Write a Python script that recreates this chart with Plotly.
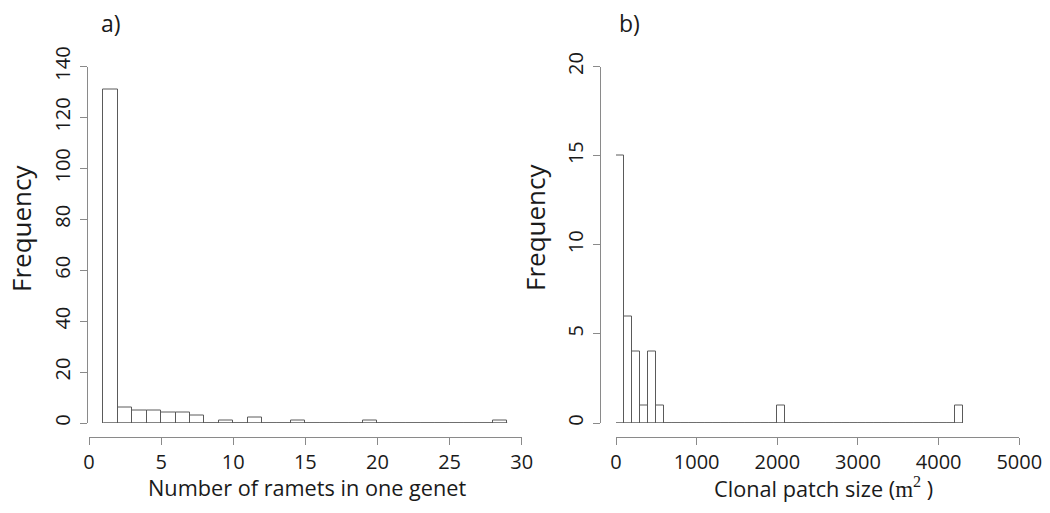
import plotly.graph_objects as go

# Panel a): number of ramets per genet, unit-width bins starting at 1
ramet_edges = list(range(1, 30))
ramet_counts = [131, 6, 5, 5, 4, 4, 3, 0, 1, 0, 2, 0, 0, 1,
                0, 0, 0, 0, 1, 0, 0, 0, 0, 0, 0, 0, 0, 1]
ramet_xticks = [0, 5, 10, 15, 20, 25, 30]
ramet_yticks = [0, 20, 40, 60, 80, 100, 120, 140]

# Panel b): clonal patch size (m^2), 100 m^2 bins
patch_edges = list(range(0, 4301, 100))
patch_counts = [15, 6, 4, 1, 4, 1] + [0] * 14 + [1] + [0] * 21 + [1]
patch_xticks = [0, 1000, 2000, 3000, 4000, 5000]
patch_yticks = [0, 5, 10, 15, 20]

W, H = 1050, 513
FONT = "Open Sans"
TXT = "#1a1a1a"
AXCOL = "#8a8a8a"
BARLINE = "#5a5a5a"


def px_x(p):
    return p / W


def px_y(p):
    return 1 - p / H


def hist_traces(edges, counts, xa, ya):
    centers = [(a + b) / 2 for a, b in zip(edges[:-1], edges[1:])]
    widths = [b - a for a, b in zip(edges[:-1], edges[1:])]
    bars = go.Bar(
        x=centers, y=counts, width=widths,
        marker=dict(color="white", line=dict(color=BARLINE, width=1)),
        xaxis=xa, yaxis=ya, cliponaxis=False, hoverinfo="x+y",
        showlegend=False,
    )
    base = go.Scatter(
        x=[edges[0], edges[-1]], y=[0, 0], mode="lines",
        line=dict(color=BARLINE, width=1),
        xaxis=xa, yaxis=ya, cliponaxis=False, hoverinfo="skip",
        showlegend=False,
    )
    return [bars, base]


fig = go.Figure()
for t in hist_traces(ramet_edges, ramet_counts, "x", "y"):
    fig.add_trace(t)
for t in hist_traces(patch_edges, patch_counts, "x2", "y2"):
    fig.add_trace(t)

common_x = dict(
    anchor="free", automargin=False, showline=True, linecolor=AXCOL,
    linewidth=1.2, ticks="outside", ticklen=7, tickcolor=AXCOL, tickwidth=1.2,
    showgrid=False, zeroline=False, ticklabelstandoff=0,
    tickfont=dict(family=FONT, size=20, color=TXT),
)
common_y = dict(
    anchor="free", automargin=False, showline=True, linecolor=AXCOL,
    linewidth=1.2, ticks="outside", ticklen=7, tickcolor=AXCOL, tickwidth=1.2,
    showgrid=False, zeroline=False, tickangle=-90, ticklabelstandoff=2,
    tickfont=dict(family=FONT, size=20, color=TXT),
)

y_dom = [px_y(423), px_y(66.5)]
x_pos = px_y(437.3)

fig.update_layout(
    width=W, height=H,
    margin=dict(l=0, r=0, t=0, b=0, autoexpand=False),
    paper_bgcolor="white", plot_bgcolor="white",
    bargap=0,
    xaxis=dict(common_x, domain=[px_x(89), px_x(521.7)], range=[0, 30],
               tickvals=ramet_xticks, position=x_pos),
    yaxis=dict(common_y, domain=y_dom, range=[0, 140],
               tickvals=ramet_yticks, position=px_x(87.3)),
    xaxis2=dict(common_x, domain=[px_x(616), px_x(1019.3)], range=[0, 5000],
                tickvals=patch_xticks, position=x_pos),
    yaxis2=dict(common_y, domain=y_dom, range=[0, 20],
                tickvals=patch_yticks, position=px_x(600)),
)

title_font = dict(family=FONT, size=21.7, color=TXT)
ylab_font = dict(family=FONT, size=26, color=TXT)
panel_font = dict(family=FONT, size=23, color=TXT)
annotations = [
    dict(text="Number of ramets in one genet", x=px_x(307), y=px_y(487),
         font=title_font),
    dict(text='Clonal patch size (<span style="font-family:Liberation Serif;'
              'font-size:23px">m<sup>2</sup></span> )',
         x=px_x(823), y=px_y(488), font=title_font),
    dict(text="Frequency", x=px_x(21), y=px_y(229), textangle=-90,
         font=ylab_font),
    dict(text="Frequency", x=px_x(535), y=px_y(228), textangle=-90,
         font=ylab_font),
    dict(text="a)", x=px_x(111), y=px_y(23), font=panel_font),
    dict(text="b)", x=px_x(629), y=px_y(23), font=panel_font),
]
for a in annotations:
    fig.add_annotation(
        xref="paper", yref="paper", showarrow=False,
        xanchor="center", yanchor="middle", **a,
    )

fig.write_html("out.html")
